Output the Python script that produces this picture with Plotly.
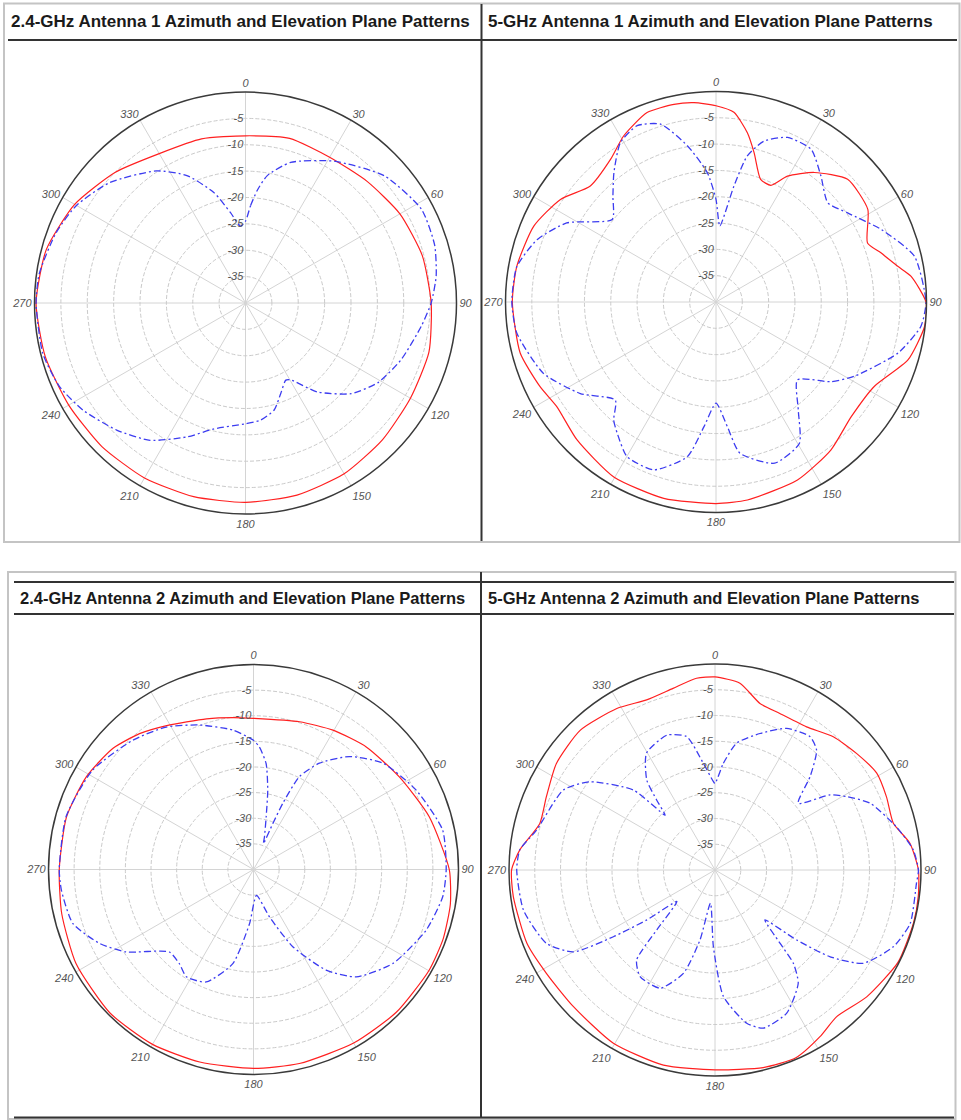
import plotly.graph_objects as go

W, H = 961, 1120

# ---------------- data (dB vs angle, degrees) ----------------
titles = [
    "2.4-GHz Antenna 1 Azimuth and Elevation Plane Patterns",
    "5-GHz Antenna 1 Azimuth and Elevation Plane Patterns",
    "2.4-GHz Antenna 2 Azimuth and Elevation Plane Patterns",
    "5-GHz Antenna 2 Azimuth and Elevation Plane Patterns",
]
angle_ticks = [0, 30, 60, 90, 120, 150, 180, 210, 240, 270, 300, 330]
radial_ticks = [-35, -30, -25, -20, -15, -10, -5]

# Antenna 1, 2.4 GHz
a1_24_red_theta = [0, 15, 30, 45, 60, 75, 90, 105, 120, 135, 150, 165, 180, 195, 210, 225,
                   240, 255, 270, 285, 300, 315, 330, 345, 360]
a1_24_red_db = [-8.3, -7.7, -8.1, -7.4, -6.2, -5.3, -4.8, -4.0, -3.9, -3.3, -2.6, -2.3, -2.2,
                -2.0, -1.7, -1.5, -1.3, -0.7, -0.3, -0.9, -2.6, -5.0, -7.3, -7.8, -8.3]
a1_24_blue_theta = [0, 3, 6, 9.7, 17.8, 32, 47.5, 62, 73, 82, 90, 97.6, 110, 121, 130.6, 141,
                    149.6, 152.4, 158.7, 165, 172.7, 180, 194, 203.6, 214.8, 225.4, 236.6,
                    245.8, 256, 270, 278, 290.4, 300, 311.6, 326, 335.3, 344, 350.5, 356.3, 360]
a1_24_blue_db = [-24.5, -21.5, -18.5, -15.5, -12.0, -8.3, -4.3, -2.2, -2.5, -3.5, -4.8, -6.4,
                 -8.6, -10.7, -13.6, -18.3, -23.1, -23.5, -21.6, -19.0, -17.6, -17.1, -15.4,
                 -12.3, -8.3, -5.7, -3.1, -1.35, -0.4, -0.3, -0.5, -1.7, -3.0, -5.6, -9.8,
                 -13.4, -18.2, -22.6, -25.4, -24.5]

# Antenna 1, 5 GHz
a1_5_red_theta = [0, 5.4, 10.5, 14.3, 20, 25.2, 29.6, 37.2, 47, 58.6, 68.7, 73.4, 78.9, 82.5,
                  90, 96.7, 106.8, 118, 130.3, 142.2, 155.4, 171, 180, 194.9, 210.3, 225.2,
                  236.7, 244.3, 255.4, 270, 280.2, 292.6, 303.4, 312.7, 323.5, 330.9, 340,
                  348, 353.7, 360]
a1_5_red_db = [-2.7, -3.8, -7.3, -10.7, -15.2, -15.5, -12.5, -9.1, -5.8, -6.2, -9.1, -7.3,
               -4.8, -2.6, -0.1, -0.1, -1.9, -5.9, -6.3, -4.4, -2.8, -1.9, -1.7, -1.4, -1.5,
               -2.8, -3.8, -2.9, -1.55, -1.3, -1.55, -2.5, -4.6, -7.5, -6.3, -3.9, -1.7,
               -1.6, -1.9, -2.7]
a1_5_blue_theta = [0, 2.9, 8.8, 12.1, 16.6, 23.5, 31.9, 39.8, 48.4, 55.9, 66.3, 77, 90, 96.8,
                   105.7, 118.3, 124.7, 133.7, 142.7, 149.5, 160, 171, 174.8, 180, 185.5,
                   190.5, 200.3, 209.9, 217, 220.9, 225.8, 236, 247.6, 261.1, 270, 280,
                   289.2, 297.9, 308.5, 315.8, 321.7, 329, 335.9, 342.7, 349.6, 356.2, 360]
a1_5_blue_db = [-20.5, -25.5, -17.7, -11.6, -8.1, -5.9, -5.8, -8.85, -11.6, -9.8, -5.7, -1.3,
                -0.1, -0.8, -4.1, -10.2, -13.4, -18.6, -14.2, -8.8, -7.4, -10.9, -16.2, -20.8,
                -16.2, -10.1, -6.0, -6.1, -8.8, -10.3, -13.3, -8.9, -4.5, -1.7, -1.2, -1.55,
                -4.0, -7.9, -14.8, -11.9, -8.7, -4.7, -3.3, -4.6, -9.8, -15.4, -20.5]

# Antenna 2, 2.4 GHz
a2_24_red_theta = [0, 17.3, 29.7, 42.6, 57.6, 73.3, 90, 100, 110, 120, 135, 150, 166.7, 180,
                   195.6, 210, 225, 242, 257, 270, 285.7, 299, 310.8, 320, 328.9, 342.7,
                   352.4, 360]
a2_24_red_db = [-10.5, -9.8, -8.7, -7.5, -6.3, -4.2, -1.8, -1.0, -0.6, -0.5, -0.6, -0.9, -1.1,
                -1.2, -1.0, -0.6, -0.4, -0.8, -1.6, -2.1, -2.1, -2.7, -3.8, -5.4, -7.2, -9.2,
                -10.1, -10.5]
a2_24_blue_theta = [0, 2.8, 6.8, 10.2, 13.5, 18.6, 21, 22.8, 23.9, 26.3, 31.8, 40.3, 50.6,
                    63.9, 78.2, 90, 98.2, 109.4, 124, 136.3, 144.2, 153, 161.3, 173.4, 184.2,
                    192.4, 202.8, 212, 218.2, 225.6, 237.1, 244.3, 253.4, 263.9, 270, 285.7,
                    301.7, 317, 328.5, 339.5, 351.6, 360]
a2_24_blue_db = [-14.8, -16.1, -19.2, -24.3, -29.4, -33.3, -34.6, -30.3, -25.8, -19.8, -15.6,
                 -11.1, -7.3, -4.7, -2.3, -2.4, -2.7, -4.3, -7.2, -11.0, -15.8, -23.1, -30.2,
                 -34.9, -29.4, -21.2, -16.2, -15.3, -16.6, -17.0, -10.4, -6.7, -3.2, -2.3,
                 -2.1, -2.0, -3.1, -5.5, -7.4, -9.9, -12.5, -14.8]

# Antenna 2, 5 GHz
a2_5_red_theta = [0, 7.6, 15.1, 22.5, 32.6, 41.6, 50.5, 59.1, 66.9, 75.3, 82.2, 90, 97.4,
                  104.8, 116.8, 129.9, 140.3, 147.8, 156.7, 166.3, 180, 194.8, 210.4, 226,
                  238.5, 248.7, 262.5, 270, 275.9, 284.9, 293.5, 303.9, 316, 328.7, 338.1,
                  347, 354.5, 360]
a2_5_red_db = [-2.5, -3.4, -6.5, -7.1, -7.0, -5.4, -4.4, -3.4, -3.8, -4.2, -1.8, -0.5, -0.2,
               -0.1, -0.2, -1.6, -3.0, -1.75, -0.3, -0.5, -1.2, -0.8, -1.0, -1.8, -1.6, -0.8,
               -0.5, -0.5, -1.9, -4.8, -4.3, -2.9, -2.3, -3.3, -4.4, -3.8, -2.6, -2.5]
a2_5_blue_theta = [0, 4.5, 9.7, 18.2, 26.8, 35.5, 40.3, 45.5, 51.3, 56.9, 60.9, 66.7, 76.6,
                   84.2, 90, 93.8, 105.3, 113.3, 122.2, 127, 130.6, 135, 138.4, 140, 143.7,
                   153.4, 163, 168.3, 176.2, 181.2, 187.8, 192.1, 197, 204.9, 215.1, 221,
                   224.2, 230.4, 233.8, 236.7, 240, 246.5, 258.2, 270, 275.9, 282.6, 297.8,
                   305.2, 314.4, 317.7, 320.2, 322.8, 329.6, 340.3, 348, 353.8, 358.9, 360]
a2_5_blue_db = [-23.2, -19.2, -15.0, -12.1, -9.2, -8.2, -9.5, -14.1, -19.3, -13.3, -10.7,
                -7.2, -3.8, -1.3, -0.5, -0.8, -0.7, -2.3, -6.0, -12.0, -19.1, -26.3, -21.0,
                -16.3, -12.7, -8.9, -7.9, -9.6, -15.4, -25.1, -33.5, -26.1, -19.0, -14.7,
                -14.7, -16.8, -23.8, -30.4, -23.6, -16.4, -8.2, -4.3, -2.0, -1.5, -1.9, -4.5,
                -6.7, -10.3, -17.8, -25.6, -22.3, -18.1, -13.7, -12.2, -13.5, -19.2, -22.8,
                -23.2]

curves = [
    (a1_24_red_theta, a1_24_red_db, a1_24_blue_theta, a1_24_blue_db),
    (a1_5_red_theta, a1_5_red_db, a1_5_blue_theta, a1_5_blue_db),
    (a2_24_red_theta, a2_24_red_db, a2_24_blue_theta, a2_24_blue_db),
    (a2_5_red_theta, a2_5_red_db, a2_5_blue_theta, a2_5_blue_db),
]

# ---------------- layout geometry (pixels) ----------------
geom = [(245.5, 303, 211), (716, 302, 210.5), (253.5, 869.5, 205), (715, 870, 206)]


def px(x):
    return x / W


def py(y):
    return 1 - y / H


fig = go.Figure()
tick_font = dict(family="Liberation Sans, Arial, sans-serif", size=11, color="#555555",
                 style="italic")

layout_polars = {}
for i, ((tr, dr, tb, db), (cx, cy, R)) in enumerate(zip(curves, geom)):
    name = "polar" if i == 0 else f"polar{i + 1}"
    fig.add_trace(go.Scatterpolar(
        theta=tr, r=dr, mode="lines", subplot=name, showlegend=False,
        line=dict(color="#ff2020", width=1.2, shape="spline", smoothing=0.6),
        hoverinfo="skip"))
    fig.add_trace(go.Scatterpolar(
        theta=tb, r=db, mode="lines", subplot=name, showlegend=False,
        line=dict(color="#3c3cf0", width=1.3, dash="7px,3px,2px,3px", shape="spline",
                  smoothing=0.6),
        hoverinfo="skip"))
    layout_polars[name] = dict(
        domain=dict(x=[px(cx - R), px(cx + R)], y=[py(cy + R), py(cy - R)]),
        bgcolor="white",
        angularaxis=dict(
            rotation=90, direction="clockwise",
            tickmode="array", tickvals=angle_ticks, ticktext=[str(a) for a in angle_ticks],
            showline=True, linecolor="#3a3a3a", linewidth=1.5,
            showgrid=True, gridcolor="#d4d4d4", gridwidth=1,
            ticks="", tickfont=tick_font,
        ),
        radialaxis=dict(
            range=[-40, 0], angle=90, tickangle=90,
            tickmode="array", tickvals=radial_ticks, ticktext=[str(v) for v in radial_ticks],
            showline=False, showgrid=True, gridcolor="#cacaca", gridwidth=1,
            griddash="4px,2px", ticks="", tickfont=tick_font, side="counterclockwise",
        ),
    )

# ---------------- table frame (decoration) ----------------
shapes = []
light = "#c4c4c4"
dark = "#333333"


def line(x0, y0, x1, y1, color, width):
    shapes.append(dict(type="line", xref="paper", yref="paper", x0=px(x0), y0=py(y0),
                       x1=px(x1), y1=py(y1), line=dict(color=color, width=width)))


def rect(x0, y0, x1, y1, color, width):
    shapes.append(dict(type="rect", xref="paper", yref="paper", x0=px(x0), y0=py(y0),
                       x1=px(x1), y1=py(y1), line=dict(color=color, width=width)))


# top block
rect(4, 3.5, 959.5, 542, light, 2)
line(8, 40, 957, 40, dark, 2)
line(481.5, 4, 481.5, 541, dark, 2)
# bottom block
rect(8, 572, 955.5, 1119, light, 2)
line(14, 582, 954, 582, dark, 2)
line(14, 614, 954, 614, dark, 2)
line(481, 572, 481, 1118, dark, 2)
line(14, 1117.5, 954, 1117.5, dark, 2)

annotations = []
for (t, x, y, s) in [(titles[0], 9, 21, 17), (titles[1], 486, 21, 17),
                     (titles[2], 18, 598, 16.5), (titles[3], 486, 598, 16.5)]:
    annotations.append(dict(text=t, xref="paper", yref="paper", x=px(x), y=py(y),
                            xanchor="left", yanchor="middle", showarrow=False,
                            font=dict(family="Liberation Sans, Arial, sans-serif", size=s,
                                      color="#1a1a1a", weight="bold")))

fig.update_layout(
    width=W, height=H, margin=dict(l=0, r=0, t=0, b=0),
    paper_bgcolor="white", plot_bgcolor="white",
    shapes=shapes, annotations=annotations, **layout_polars,
)

fig.write_html("out.html", config={"displayModeBar": False},
               post_script="document.body.style.margin='0';document.body.style.overflow='hidden';")
